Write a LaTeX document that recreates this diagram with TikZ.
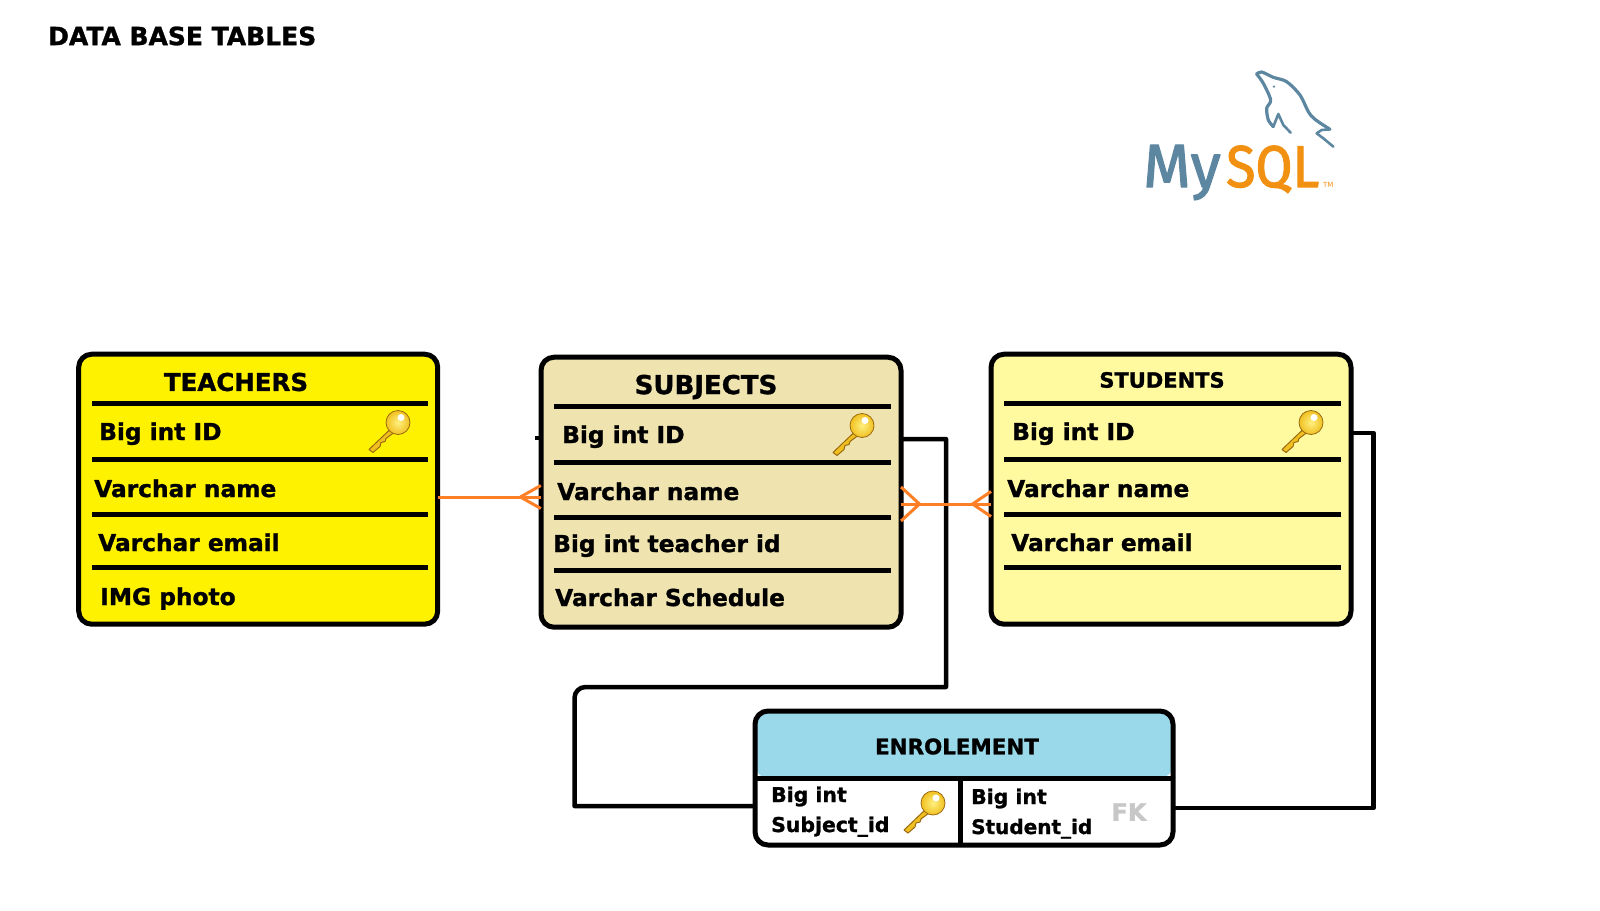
\documentclass[tikz,border=0pt]{standalone}
\usepackage{fontspec}
\setmainfont{DejaVu Sans}[BoldFeatures={FakeBold=1.2}]
\newfontfamily\logofont{Fira Sans}[FakeBold=2]
\usetikzlibrary{arrows}

\definecolor{teachyellow}{HTML}{FFF200}
\definecolor{subjtan}{HTML}{EFE4B0}
\definecolor{studyellow}{HTML}{FFF9A0}
\definecolor{headblue}{HTML}{99D9EA}
\definecolor{crowfoot}{HTML}{FF7F27}
\definecolor{logoblue}{HTML}{5D87A1}
\definecolor{logoorange}{HTML}{F29111}
\definecolor{keygold}{HTML}{F0C020}
\definecolor{keylight}{HTML}{FFF080}
\definecolor{keyedge}{HTML}{9A6A10}

% key icon: #1 is the centre of its head
\newcommand{\keyicon}[1]{
	\begin{scope}[shift={#1}]
		\filldraw[keygold,draw=keyedge,line width=1pt] (-7,6) -- (-29,27) -- (-25,30) -- (-18,24) -- (-17,20) -- (-13,19) -- (-12,16) -- (-4,10) -- cycle;
		\shade[inner color=keylight,outer color=keygold] (0,0) circle (12);
		\draw[keyedge,line width=0.8pt] (0,0) circle (12);
		\fill[white] (3,-5) circle (3.5);
	\end{scope}
}

\begin{document}
\begin{tikzpicture}[x=1pt,y=-1pt,line join=round]
	\tikzstyle{table} = [draw=black,line width=5pt,rounded corners=13pt,outer sep=0pt,inner sep=0pt];
	\tikzstyle{rowline} = [draw=black,line width=5pt];
	\tikzstyle{link} = [draw=black,line width=4.5pt];
	\tikzstyle{crow} = [draw=crowfoot,line width=3pt];
	\tikzstyle{title} = [inner sep=0pt,font=\bfseries\fontsize{24.5}{28}\selectfont];
	\tikzstyle{row} = [inner sep=0pt,anchor=base west,font=\bfseries\fontsize{23.3}{26}\selectfont];
	\tikzstyle{cell} = [inner sep=0pt,anchor=base west,font=\bfseries\fontsize{20.4}{24}\selectfont];
	\useasboundingbox (0,0) rectangle (1600,910);

	\node[title,anchor=west,font=\bfseries\fontsize{25}{28}\selectfont] (heading) at (48,36) {DATA BASE TABLES};

	% logo
	\begin{scope}[shift={(1100,50)},x=0.3333pt,y=-0.3333pt]
		\draw[logoblue,line width=3.2pt,line cap=round] plot[smooth,tension=0.5] coordinates {(470,72) (485,66) (520,82) (560,95) (600,135) (625,185) (645,208) (690,238)};
		\draw[logoblue,line width=2.6pt,line cap=round] (690,238) -- (665,240) -- (650,250) -- (670,265) -- (700,290);
		\draw[logoblue,line width=3.2pt,line cap=round] plot[smooth,tension=0.5] coordinates {(470,72) (490,100) (512,150) (500,175) (505,210) (520,230)};
		\draw[logoblue,line width=2.6pt,line cap=round] (520,230) -- (535,192) -- (550,225) -- (572,248);
		\fill[logoblue] (522,110) circle (4);
	\end{scope}
	\node[inner sep=0pt,anchor=base west,text=logoblue,font=\logofont\fontsize{61}{64}\selectfont] (logomy) at (1143,187) {My};
	\node[inner sep=0pt,anchor=base west,text=logoorange,xscale=0.91,font=\logofont\fontsize{59}{64}\selectfont] (logosql) at (1226,187) {SQL};
	\node[inner sep=0pt,anchor=base west,text=logoorange,font=\fontsize{7}{8}\selectfont] (logotm) at (1323,187) {TM};

	% black links go under the tables
	\coordinate (bendA) at (946,439);
	\coordinate (bendB) at (946,687);
	\coordinate (bendC) at (574.5,687);
	\coordinate (bendD) at (574.5,806);
	\coordinate (bendE) at (1373.5,433);
	\coordinate (bendF) at (1373.5,808);
	\coordinate (tickA) at (75.5,436);
	\coordinate (tickB) at (535,438);

	% tables
	\node[table,fill=teachyellow,minimum width=359pt,minimum height=270pt] (teachers) at (258.2,489.2) {};
	\node[table,fill=subjtan,minimum width=360pt,minimum height=270pt] (subjects) at (721,492.2) {};
	\node[table,fill=studyellow,minimum width=360pt,minimum height=270pt] (students) at (1171,489.2) {};
	\node[table,fill=white,minimum width=418pt,minimum height=134pt,path picture={\fill[headblue] (path picture bounding box.north west) rectangle (path picture bounding box.east);}] (enrolement) at (964,778) {};

	\draw[link] (subjects.east |- bendA) -- (bendA) -- (bendB) [rounded corners=11pt] -- (bendC) [sharp corners] -- (bendD) -- (enrolement.west |- bendD);
	\draw[link] (students.east |- bendE) -- (bendE) -- (bendF) -- (enrolement.east |- bendF);
	\draw[link] (tickA) -- (teachers.west |- tickA);
	\draw[link] (tickB) -- (subjects.west |- tickB);

	% teachers
	\node[title] (teachershead) at (236,382) {TEACHERS};
	\draw[rowline] (92,403) -- (427.5,403);
	\draw[rowline] (92,459) -- (427.5,459);
	\draw[rowline] (92,514) -- (427.5,514);
	\draw[rowline] (92,567) -- (427.5,567);
	\node[row] (teachersid) at (99,440) {Big int ID};
	\node[row] (teachersname) at (94,497) {Varchar name};
	\node[row] (teachersemail) at (98,551) {Varchar email};
	\node[row] (teachersphoto) at (100,605) {IMG photo};
	\keyicon{(398,422.5)}

	% subjects
	\node[title,font=\bfseries\fontsize{26}{28}\selectfont] (subjectshead) at (706,387) {SUBJECTS};
	\draw[rowline] (554,406) -- (891,406);
	\draw[rowline] (554,462) -- (891,462);
	\draw[rowline] (554,517.5) -- (891,517.5);
	\draw[rowline] (554,570.5) -- (891,570.5);
	\node[row] (subjectsid) at (562,443) {Big int ID};
	\node[row] (subjectsname) at (557,500) {Varchar name};
	\node[row] (subjectsteacher) at (553,552) {Big int teacher id};
	\node[row] (subjectsschedule) at (555,606) {Varchar Schedule};
	\keyicon{(862,425.5)}

	% students
	\node[title,font=\bfseries\fontsize{21}{24}\selectfont] (studentshead) at (1162,380) {STUDENTS};
	\draw[rowline] (1004,403) -- (1341,403);
	\draw[rowline] (1004,459) -- (1341,459);
	\draw[rowline] (1004,514) -- (1341,514);
	\draw[rowline] (1004,567) -- (1341,567);
	\node[row] (studentsid) at (1012,440) {Big int ID};
	\node[row] (studentsname) at (1007,497) {Varchar name};
	\node[row] (studentsemail) at (1011,551) {Varchar email};
	\keyicon{(1311,422.5)}

	% enrolement
	\node[title,font=\bfseries\fontsize{21.4}{24}\selectfont] (enrolementhead) at (957,746.5) {ENROLEMENT};
	\draw[rowline] (755,778.6) -- (1175,778.6);
	\draw[rowline] (960,778.6) -- (960,845);
	\node[cell] (subjectidtype) at (771,802) {Big int};
	\node[cell] (subjectid) at (771,832) {Subject\_id};
	\node[cell] (studentidtype) at (971,804) {Big int};
	\node[cell,font=\bfseries\fontsize{20}{24}\selectfont] (studentid) at (971,834) {Student\_id};
	\node[inner sep=0pt,text=black!22,font=\bfseries\fontsize{24}{26}\selectfont] (fk) at (1129,812) {FK};
	\keyicon{(933,803)}

	% crow's feet
	\coordinate (footA) at (520.4,497);
	\coordinate (footB) at (919.5,504);
	\coordinate (footC) at (972.5,504);
	\draw[crow] (teachers.east |- footA) -- (subjects.west |- footA);
	\draw[crow] (footA) -- +(20.4,-11.5) (footA) -- +(20.4,11.5);
	\draw[crow] (subjects.east |- footB) -- (students.west |- footB);
	\draw[crow] (footB) -- +(-18.5,-17) (footB) -- +(-18.5,17);
	\draw[crow] (footC) -- +(18.5,-12.5) (footC) -- +(18.5,12.5);
\end{tikzpicture}
\end{document}
